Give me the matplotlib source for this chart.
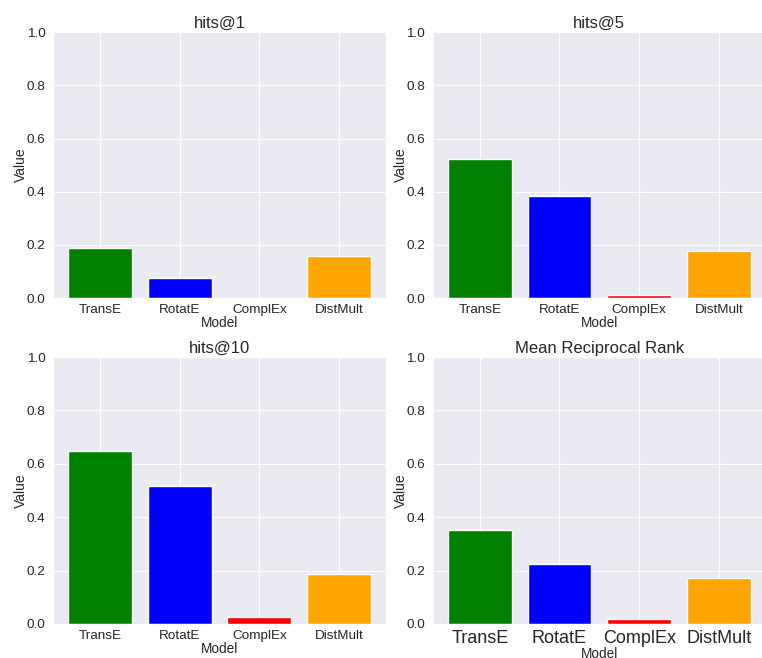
import matplotlib
matplotlib.use("Agg")
import matplotlib.pyplot as plt
import seaborn as sns

models = ["TransE", "RotatE", "ComplEx", "DistMult"]
bar_colors = ["green", "blue", "red", "orange"]

hits_at_1 = [0.188, 0.075, 0.001, 0.158]
hits_at_5 = [0.522, 0.385, 0.010, 0.177]
hits_at_10 = [0.648, 0.518, 0.027, 0.187]
mrr = [0.352, 0.225, 0.018, 0.172]

titles = ["hits@1", "hits@5", "hits@10", "Mean Reciprocal Rank"]
metrics = [hits_at_1, hits_at_5, hits_at_10, mrr]

sns.set_style("darkgrid")
plt.rcParams["font.family"] = ["Liberation Sans", "DejaVu Sans"]

fig = plt.figure(figsize=(7.62, 6.58), dpi=100)

# axes boxes in figure fractions: left, bottom, width, height
boxes = [
    (0.0696, 0.547, 0.437, 0.404),
    (0.568, 0.547, 0.437, 0.404),
    (0.0696, 0.0517, 0.437, 0.4057),
    (0.568, 0.0517, 0.437, 0.4057),
]

for i, (title, values) in enumerate(zip(titles, metrics)):
    ax = fig.add_axes(boxes[i])
    ax.bar(models, values, color=bar_colors)
    ax.set_ylim(0, 1.0)
    ax.set_title(title, fontsize=12, pad=3)
    ax.set_xlabel("Model", fontsize=9.8, labelpad=0)
    ax.set_ylabel("Value", fontsize=10, labelpad=-1)
    ax.tick_params(axis="y", labelsize=9.7, pad=2)
    if i == 3:
        # last panel has bigger model names, its "Model" label runs off the bottom like the original
        ax.tick_params(axis="x", labelsize=13, pad=1)
    else:
        ax.tick_params(axis="x", labelsize=9.7, pad=1)

fig.savefig("out.png", dpi=100)
